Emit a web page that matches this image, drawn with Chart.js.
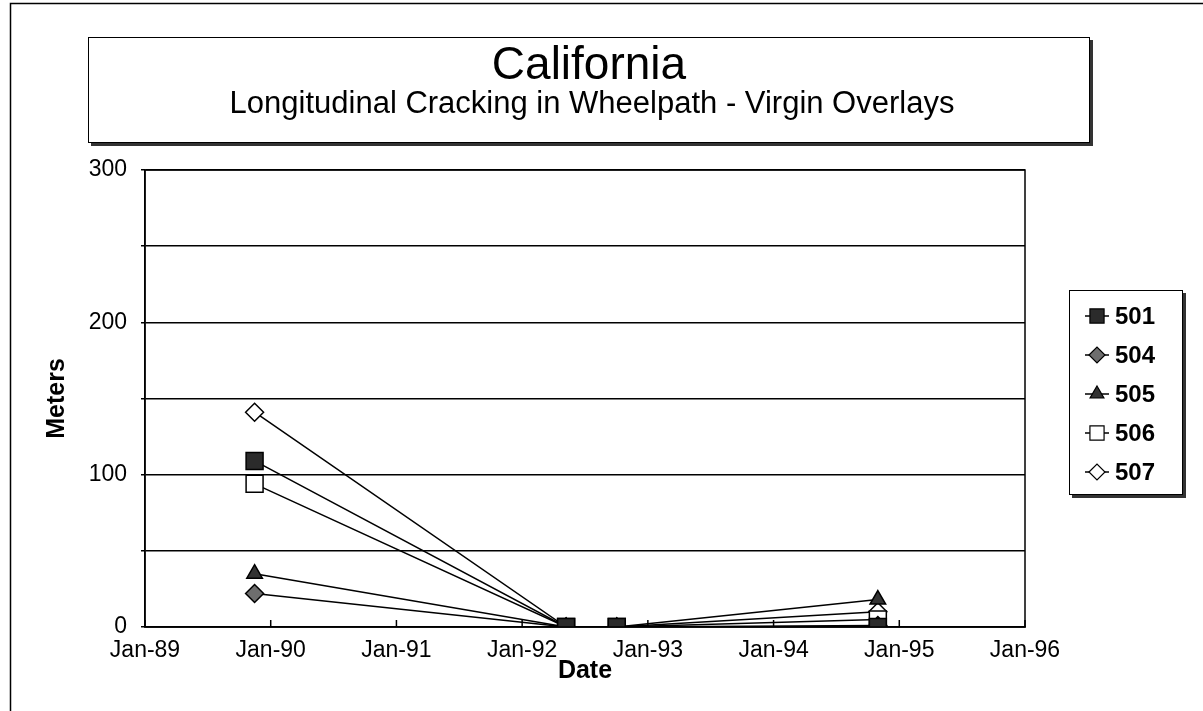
<!DOCTYPE html>
<html>
<head>
<meta charset="utf-8">
<style>
  html, body { margin: 0; padding: 0; background: #fff; }
  #wrap { width: 1203px; height: 711px; }
</style>
<script src="https://cdn.jsdelivr.net/npm/chart.js@4"></script>
</head>
<body>
<div id="wrap"><canvas id="CA_Canvas" width="1203" height="711"></canvas></div>
<script>
// ── Data ─────────────────────────────────────────────────────────────────────
const surveyDates = ['1989-11-15', '1992-05-07', '1992-10-02', '1994-10-30'];
const sectionNames = ['501', '504', '505', '506', '507'];
const crack501 = [109, 0, 0, 0];
const crack504 = [22, 0, 0, 1];
const crack505 = [35, 0, 0, 18];
const crack506 = [94, 0, 0, 5];
const crack507 = [141, 0, 0, 10];
const xTickLabels = ['Jan-89', 'Jan-90', 'Jan-91', 'Jan-92', 'Jan-93', 'Jan-94', 'Jan-95', 'Jan-96'];
const yTickLabels = ['0', '', '100', '', '200', '', '300'];

const titleText    = 'California';
const subtitleText = 'Longitudinal Cracking in Wheelpath - Virgin Overlays';

const FONT = '"Liberation Sans", Arial, sans-serif';

function CA_toYear(d) {
  const [y, m, dd] = d.split('-').map(Number);
  return y + (m - 1) / 12 + (dd - 1) / 365;
}

const xs = surveyDates.map(CA_toYear);
const pts = vals => vals.map((v, i) => ({ x: xs[i], y: v }));

const markerStyles = [
  { pointStyle: 'rect',     radius: 12, fill: '#2b2b2b' },
  { pointStyle: 'rectRot',  radius: 9,  fill: '#6e6e6e' },
  { pointStyle: 'triangle', radius: 9,  fill: '#333333' },
  { pointStyle: 'rect',     radius: 12, fill: '#ffffff' },
  { pointStyle: 'rectRot',  radius: 9,  fill: '#ffffff' },
];

const seriesValues = [crack501, crack504, crack505, crack506, crack507];

const datasets = sectionNames.map((name, i) => ({
  label: name,
  data: pts(seriesValues[i]),
  borderColor: '#000',
  borderWidth: 1.5,
  pointStyle: markerStyles[i].pointStyle,
  pointRadius: markerStyles[i].radius,
  pointBackgroundColor: markerStyles[i].fill,
  pointBorderColor: '#000',
  pointBorderWidth: 1.5,
  tension: 0,
}));

// ── Frames, title box, x tick marks, legend ──────────────────────────────────
const CA_Decor = {
  id: 'caDecor',
  beforeDraw(chart) {
    const ctx = chart.ctx;
    ctx.save();
    ctx.fillStyle = '#fff';
    ctx.fillRect(0, 0, chart.width, chart.height);

    // outer frame (top + left visible)
    ctx.strokeStyle = '#000';
    ctx.lineWidth = 1.5;
    ctx.beginPath();
    ctx.moveTo(10.5, 711); ctx.lineTo(10.5, 3.5); ctx.lineTo(1203, 3.5);
    ctx.stroke();

    // title box with shadow
    ctx.fillStyle = '#333';
    ctx.fillRect(91, 40, 1002, 106);
    ctx.fillStyle = '#fff';
    ctx.fillRect(88, 37, 1002, 106);
    ctx.lineWidth = 1;
    ctx.strokeRect(88.5, 37.5, 1001, 105);

    ctx.fillStyle = '#000';
    ctx.textAlign = 'center';
    ctx.textBaseline = 'alphabetic';
    ctx.font = '46px ' + FONT;
    ctx.fillText(titleText, 589, 79);
    ctx.font = '31px ' + FONT;
    ctx.fillText(subtitleText, 592, 113);
    ctx.restore();
  },
  afterDraw(chart) {
    const ctx = chart.ctx;
    const a = chart.chartArea;
    const xScale = chart.scales.x;
    ctx.save();
    ctx.strokeStyle = '#000';
    ctx.lineWidth = 1.5;
    ctx.strokeRect(a.left, a.top, a.right - a.left, a.bottom - a.top);

    // small tick marks pointing up into the plot
    xScale.ticks.forEach(t => {
      const px = xScale.getPixelForValue(t.value);
      ctx.beginPath();
      ctx.moveTo(px, a.bottom);
      ctx.lineTo(px, a.bottom - 7);
      ctx.stroke();
    });

    // legend box with shadow
    const lx = 1069, ly = 290, lw = 114, lh = 205;
    ctx.fillStyle = '#333';
    ctx.fillRect(lx + 3, ly + 3, lw, lh);
    ctx.fillStyle = '#fff';
    ctx.fillRect(lx, ly, lw, lh);
    ctx.lineWidth = 1;
    ctx.strokeRect(lx + 0.5, ly + 0.5, lw - 1, lh - 1);

    ctx.font = 'bold 24px ' + FONT;
    ctx.textAlign = 'left';
    ctx.textBaseline = 'middle';
    chart.data.datasets.forEach((ds, i) => {
      const cy = 316 + i * 39;
      const mx = 1097;
      ctx.strokeStyle = '#000';
      ctx.lineWidth = 1.5;
      ctx.beginPath();
      ctx.moveTo(mx - 12, cy); ctx.lineTo(mx + 12, cy);
      ctx.stroke();
      ctx.fillStyle = ds.pointBackgroundColor;
      ctx.strokeStyle = '#000';
      ctx.lineWidth = 1.2;
      Chart.helpers.drawPoint(ctx, {
        pointStyle: ds.pointStyle,
        radius: ds.pointStyle === 'rect' ? 10 : 8,
        rotation: 0,
        borderWidth: 1.2,
      }, mx, cy);
      ctx.fillStyle = '#000';
      ctx.fillText(ds.label, 1115, cy + 1);
    });
    ctx.restore();
  },
};

new Chart(document.getElementById('CA_Canvas').getContext('2d'), {
  type: 'line',
  data: { datasets },
  plugins: [CA_Decor],
  options: {
    responsive: false,
    animation: false,
    layout: { padding: { left: 42, right: 178, top: 170, bottom: 25 } },
    plugins: {
      legend: { display: false },
      title: { display: false },
      tooltip: { enabled: false },
    },
    scales: {
      x: {
        type: 'linear',
        min: 1989, max: 1996,
        afterFit: s => { s.height = 59; },
        grid: { display: false },
        border: { display: true, color: '#000', width: 1.5 },
        ticks: {
          stepSize: 1, autoSkip: false, maxRotation: 0, padding: 2,
          color: '#000', font: { size: 23, family: FONT },
          callback: (v, i) => xTickLabels[i],
        },
        title: {
          display: true, text: 'Date', color: '#000', padding: 0,
          font: { size: 25, weight: 'bold', family: FONT },
        },
      },
      y: {
        min: 0, max: 300,
        afterFit: s => { s.width = 103; },
        grid: { color: '#000', lineWidth: 1.5, tickLength: 4, drawTicks: true },
        border: { display: true, color: '#000', width: 1.5 },
        ticks: {
          stepSize: 50, padding: 14,
          color: '#000', font: { size: 23, family: FONT },
          callback: (v, i) => yTickLabels[i],
        },
        title: {
          display: true, text: 'Meters', color: '#000', padding: 0,
          font: { size: 25, weight: 'bold', family: FONT },
        },
      },
    },
  },
});
</script>
</body>
</html>
